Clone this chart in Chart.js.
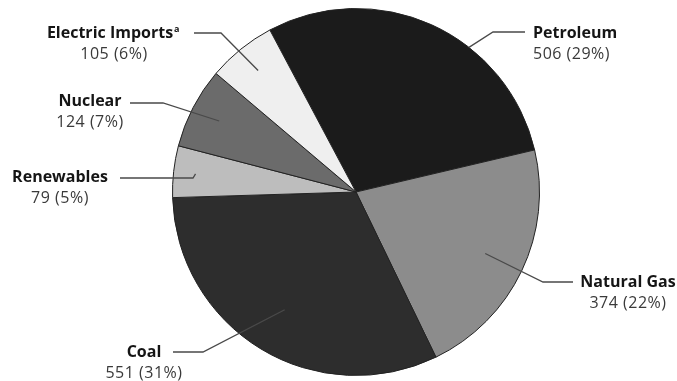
<!DOCTYPE html>
<html>
<head>
<meta charset="utf-8">
<script src="https://cdn.jsdelivr.net/npm/chart.js@4"></script>
<style>
  html, body { margin: 0; padding: 0; background: #fff; }
  #wrap { width: 677px; height: 381px; }
</style>
</head>
<body>
<div id="wrap"><canvas id="pie"></canvas></div>
<script>
const labels = ["Petroleum", "Natural Gas", "Coal", "Renewables", "Nuclear", "Electric Imports"];
const values = [506, 374, 551, 79, 124, 105];
const percents = ["29%", "22%", "31%", "5%", "7%", "6%"];
const colors = ["#1b1b1b", "#8c8c8c", "#2d2d2d", "#bdbdbd", "#6b6b6b", "#efefef"];

// where each callout sits: text anchor, leader line start/elbow, and where it touches the slice
const callouts = [
  { tx: 533, ty: 33, align: "left", lx: 525, ex: 493, ly: 32, frac: 1.0, at: 0.63 },
  { tx: 628, ty: 282, align: "center", lx: 573, ex: 543, ly: 282, frac: 0.78, at: 0.5 },
  { tx: 144, ty: 352, align: "center", lx: 173, ex: 203, ly: 352, frac: 0.75, at: 0.5 },
  { tx: 60, ty: 177, align: "center", lx: 120, ex: 193, ly: 178, frac: 0.88, at: 0.5 },
  { tx: 90, ty: 101, align: "center", lx: 130, ex: 163, ly: 103, frac: 0.84, at: 0.5 },
  { tx: 114, ty: 33, align: "center", lx: 194, ex: 221, ly: 33, frac: 0.85, at: 0.5 },
];

const calloutPlugin = {
  id: "callouts",
  afterDatasetsDraw(chart) {
    const ctx = chart.ctx;
    const arcs = chart.getDatasetMeta(0).data;
    ctx.save();
    arcs.forEach((arc, i) => {
      const c = callouts[i];
      const p = arc.getProps(["x", "y", "startAngle", "endAngle", "outerRadius"], true);
      const a = p.startAngle + (p.endAngle - p.startAngle) * c.at;
      const px = p.x + Math.cos(a) * p.outerRadius * c.frac;
      const py = p.y + Math.sin(a) * p.outerRadius * c.frac;

      ctx.strokeStyle = "#4a4a4a";
      ctx.lineWidth = 1.3;
      ctx.beginPath();
      ctx.moveTo(c.lx, c.ly);
      ctx.lineTo(c.ex, c.ly);
      ctx.lineTo(px, py);
      ctx.stroke();

      ctx.textAlign = c.align;
      ctx.textBaseline = "middle";
      ctx.fillStyle = "#151515";
      ctx.font = "bold 16px 'Open Sans'";
      let w = ctx.measureText(labels[i]).width;
      let x = c.tx;
      if (i === 5) x -= 4;
      ctx.fillText(labels[i], x, c.ty);
      if (i === 5) {
        ctx.font = "bold 9px 'Open Sans'";
        ctx.textAlign = "left";
        ctx.fillText("a", x + w / 2 + 1, c.ty - 4);
        ctx.textAlign = c.align;
      }
      ctx.fillStyle = "#3a3a3a";
      ctx.font = "16px 'Open Sans'";
      ctx.letterSpacing = "0.5px";
      ctx.fillText(values[i] + " (" + percents[i] + ")", c.tx, c.ty + 21);
      ctx.letterSpacing = "0px";
    });
    ctx.restore();
  },
};

new Chart(document.getElementById("pie"), {
  type: "pie",
  data: {
    labels: labels,
    datasets: [
      {
        data: values,
        backgroundColor: colors,
        borderColor: "#222",
        borderWidth: 1,
      },
    ],
  },
  options: {
    responsive: true,
    maintainAspectRatio: false,
    animation: false,
    rotation: -28,
    layout: { padding: { left: 170, right: 135, top: 8, bottom: 5 } },
    plugins: {
      legend: { display: false },
      tooltip: { enabled: false },
    },
  },
  plugins: [calloutPlugin],
});
</script>
</body>
</html>
